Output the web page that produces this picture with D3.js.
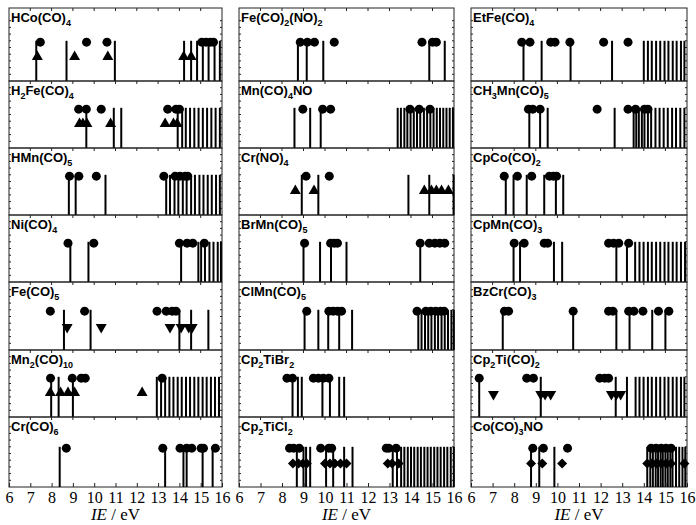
<!DOCTYPE html>
<html>
<head>
<meta charset="utf-8">
<script src="https://cdn.jsdelivr.net/npm/d3@7"></script>
<style>
  body { margin: 0; background: #fff; }
  svg { display: block; }
</style>
</head>
<body>
<div id="chart"></div>
<script>
// panel names, column by column (subscripts written in braces)
const labels = [
  "HCo(CO){4}", "H{2}Fe(CO){4}", "HMn(CO){5}", "Ni(CO){4}", "Fe(CO){5}", "Mn{2}(CO){10}", "Cr(CO){6}",
  "Fe(CO){2}(NO){2}", "Mn(CO){4}NO", "Cr(NO){4}", "BrMn(CO){5}", "ClMn(CO){5}", "Cp{2}TiBr{2}", "Cp{2}TiCl{2}",
  "EtFe(CO){4}", "CH{3}Mn(CO){5}", "CpCo(CO){2}", "CpMn(CO){3}", "BzCr(CO){3}", "Cp{2}Ti(CO){2}", "Co(CO){3}NO"
];

// calculated ionisation energies (sticks), eV
const sticks = [
  [7.28, 8.7, 10.97, 14.22, 14.55, 14.83, 15.1, 15.37, 15.65, 15.9],
  [9.63, 10.92, 11.27, 13.92, 14.13, 14.3, 14.5, 14.7, 14.9, 15.1, 15.3, 15.5, 15.7, 15.9],
  [8.81, 9.13, 10.53, 13.38, 13.56, 13.77, 13.95, 14.16, 14.34, 14.55, 14.73, 14.94, 15.13, 15.33, 15.52, 15.72, 15.9],
  [8.88, 9.73, 14.08, 14.89, 15.02, 15.2, 15.41, 15.6, 15.8, 15.95],
  [8.58, 9.83, 14.0, 14.55, 15.36],
  [7.98, 8.33, 9.0, 12.94, 13.14, 13.33, 13.53, 13.72, 13.92, 14.11, 14.31, 14.5, 14.7, 14.89, 15.09, 15.28, 15.48, 15.67, 15.86],
  [8.38, 13.33, 14.19, 14.34, 15.09, 15.56],
  [8.74, 9.15, 9.92, 14.85, 15.57],
  [8.58, 9.31, 9.8, 13.38, 13.53, 13.69, 13.83, 13.98, 14.13, 14.28, 14.43, 14.6, 14.75, 14.9, 15.05, 15.2, 15.35, 15.5, 15.65, 15.8, 15.95],
  [8.92, 9.69, 13.88, 14.85, 15.98],
  [9.0, 9.77, 10.28, 11.0, 14.43],
  [9.05, 9.69, 10.15, 10.66, 11.26, 14.34, 14.49, 14.65, 14.8, 14.95, 15.11, 15.26, 15.42, 15.57, 15.72, 15.88, 15.99],
  [8.49, 8.74, 8.92, 9.88, 10.23, 10.66, 10.89],
  [8.69, 9.0, 9.12, 9.31, 10.05, 10.38, 10.89, 11.28, 13.15, 13.35, 13.54, 13.69, 13.85, 14.0, 14.15, 14.31, 14.46, 14.62, 14.77, 14.92, 15.08, 15.23, 15.38, 15.54, 15.69, 15.85, 15.99],
  [8.43, 9.27, 10.61, 12.53, 14.0, 14.19, 14.37, 14.57, 14.76, 14.96, 15.14, 15.34, 15.52, 15.72, 15.88],
  [8.7, 9.2, 9.55, 12.65, 13.53, 13.65, 13.77, 13.91, 14.03, 14.19, 14.34, 14.54, 14.73, 14.92, 15.11, 15.31, 15.49, 15.69, 15.88],
  [7.61, 7.97, 8.58, 9.39, 9.93, 10.27],
  [7.97, 8.27, 9.84, 10.22, 12.73, 13.22, 13.6, 13.8, 13.99, 14.19, 14.37, 14.57, 14.76, 14.96, 15.14, 15.34, 15.52, 15.72, 15.91],
  [7.47, 10.73, 12.73, 13.34, 14.39, 15.0],
  [6.38, 9.23, 12.7, 13.22, 13.62, 13.8, 13.99, 14.19, 14.37, 14.57, 14.76, 14.96, 15.14, 15.34, 15.52, 15.72, 15.88],
  [8.78, 9.16, 9.86, 14.16, 14.3, 14.42, 14.55, 14.66, 14.78, 14.88, 15.0, 15.11, 15.23, 15.33, 15.49, 15.64, 15.79, 15.92]
];

// experimental values, circles
const circles = [
  [7.47, 9.64, 10.6, 15.05, 15.25, 15.45, 15.6],
  [9.27, 9.63, 10.33, 13.45, 13.84, 14.0],
  [8.84, 9.28, 10.1, 13.27, 13.8, 14.03, 14.27, 14.39],
  [8.77, 9.98, 14.0, 14.36, 14.63, 15.17],
  [7.94, 9.55, 12.95, 13.38, 13.66, 13.84],
  [7.95, 8.97, 9.39, 9.58, 13.19],
  [8.69, 13.22, 14.03, 14.34, 14.58, 15.02, 15.13, 15.69],
  [8.85, 9.18, 9.51, 10.43, 14.51, 15.0, 15.18],
  [8.97, 9.89, 10.26, 13.95, 14.38, 14.88],
  [9.12, 10.2],
  [9.05, 10.26, 10.43, 10.58, 14.43, 14.85, 15.11, 15.34, 15.57],
  [9.15, 10.18, 10.38, 10.58, 10.77, 14.28, 14.69, 14.92, 15.15, 15.38, 15.54],
  [8.23, 8.49, 9.46, 9.69, 9.92, 10.18],
  [8.35, 8.54, 8.8, 9.8, 10.18, 10.31, 12.85, 12.97, 13.31],
  [8.35, 8.73, 9.69, 9.89, 10.58, 12.14, 13.27],
  [8.66, 8.86, 9.2, 11.84, 13.27, 13.62, 14.03, 14.19],
  [7.54, 8.15, 8.81, 9.63, 9.81, 9.96],
  [8.0, 8.46, 9.39, 9.55, 12.37, 12.6, 12.84, 13.3],
  [7.55, 7.74, 10.73, 12.37, 12.57, 13.3, 13.54, 13.96, 14.68, 15.16],
  [6.38, 8.58, 8.89, 11.96, 12.19, 12.37],
  [8.86, 9.35, 10.47, 14.34, 14.57, 14.8, 15.03, 15.26]
];

// second data set, triangles up
const triUp = [
  [7.33, 9.08, 10.64, 14.2, 14.55],
  [9.31, 9.47, 9.66, 10.77, 13.33, 13.72, 13.89],
  [], [], [],
  [7.94, 8.42, 8.77, 9.08, 12.25],
  [], [], [],
  [8.62, 9.49, 14.62, 14.95, 15.18, 15.42, 15.74],
  [], [], [], [], [], [], [], [], [], [], []
];

// triangles down
const triDown = [
  [], [], [], [],
  [8.73, 10.33, 13.56, 14.08, 14.44, 14.6],
  [], [], [], [], [], [], [], [], [], [], [], [], [], [],
  [7.04, 9.23, 9.43, 9.69, 12.5, 12.73, 12.93],
  []
];

// diamonds
const diamonds = [
  [], [], [], [], [], [], [], [], [], [], [], [], [],
  [8.51, 8.77, 8.97, 9.15, 10.0, 10.23, 10.46, 10.72, 11.0, 12.92, 13.12, 13.43],
  [], [], [], [], [], [],
  [8.78, 9.3, 10.22, 14.16, 14.37, 14.57, 14.8, 15.03, 15.26, 15.88]
];

const xTicks = [6, 7, 8, 9, 10, 11, 12, 13, 14, 15, 16];

var width = 696, height = 525;
var colX = [[9, 222], [239, 454], [471, 687]];
var rowTop = [8, 81, 148, 215, 282, 350, 417];
var plotBottom = 487;
var rowH = 67;

var svg = d3.select("#chart").append("svg")
  .attr("width", width)
  .attr("height", height);

var triPath = d3.symbol().type(d3.symbolTriangle).size(52);
var diamondPath = d3.symbol().type(d3.symbolDiamond2).size(64);

labels.forEach(function(name, i) {
  var c = Math.floor(i / 7), r = i % 7;
  var top = rowTop[r];
  var bottom = r < 6 ? rowTop[r + 1] : plotBottom;

  var x = d3.scaleLinear().domain([6, 16]).range(colX[c]);
  var y = d3.scaleLinear().domain([0, 1]).range([bottom, bottom - rowH]);

  var g = svg.append("g");

  // frame
  g.append("rect")
    .attr("x", x(6)).attr("y", top)
    .attr("width", x(16) - x(6)).attr("height", bottom - top)
    .attr("fill", "none").attr("stroke", "#222").attr("stroke-width", 1);

  // small inward ticks on the top edge
  g.selectAll(".tt").data(xTicks.slice(1, -1)).join("line")
    .attr("x1", d => x(d)).attr("x2", d => x(d))
    .attr("y1", top).attr("y2", top + 3)
    .attr("stroke", "#222");
  // minor ticks on left/right edges
  var yt = d3.range(1, 10).map(d => d / 10);
  g.selectAll(".yl").data(yt).join("line")
    .attr("x1", x(6)).attr("x2", x(6) + 2)
    .attr("y1", d => y(d)).attr("y2", d => y(d))
    .attr("stroke", "#222");
  g.selectAll(".yr").data(yt).join("line")
    .attr("x1", x(16)).attr("x2", x(16) - 2)
    .attr("y1", d => y(d)).attr("y2", d => y(d))
    .attr("stroke", "#222");

  // sticks
  g.selectAll(".stick").data(sticks[i]).join("line")
    .attr("x1", d => x(d)).attr("x2", d => x(d))
    .attr("y1", y(0)).attr("y2", y(0.6))
    .attr("stroke", "#000").attr("stroke-width", 2);

  // markers
  g.selectAll(".circ").data(circles[i]).join("circle")
    .attr("cx", d => x(d)).attr("cy", y(0.58))
    .attr("r", 4.5).attr("fill", "#000");

  g.selectAll(".tu").data(triUp[i]).join("path")
    .attr("d", triPath)
    .attr("transform", d => "translate(" + x(d) + "," + y(0.36) + ")")
    .attr("fill", "#000");

  g.selectAll(".td").data(triDown[i]).join("path")
    .attr("d", triPath)
    .attr("transform", d => "translate(" + x(d) + "," + y(0.34) + ") rotate(180)")
    .attr("fill", "#000");

  g.selectAll(".dm").data(diamonds[i]).join("path")
    .attr("d", diamondPath)
    .attr("transform", d => "translate(" + x(d) + "," + y(0.35) + ")")
    .attr("fill", "#000");

  // panel name with subscripts
  var t = g.append("text")
    .attr("x", x(6) + 2).attr("y", top + 14)
    .attr("font-family", "Liberation Sans, Arial, sans-serif")
    .attr("font-weight", "bold").attr("font-size", 13);
  var wasSub = false;
  name.split(/(\{\d+\})/).forEach(function(part) {
    if (!part) return;
    var isSub = part[0] === "{";
    var dy = isSub && !wasSub ? 4 : (!isSub && wasSub ? -4 : 0);
    t.append("tspan")
      .attr("dy", dy)
      .attr("font-size", isSub ? 9 : 13)
      .text(isSub ? part.slice(1, -1) : part);
    wasSub = isSub;
  });

  // bottom axis on the last row
  if (r === 6) {
    svg.append("g")
      .attr("transform", "translate(0," + bottom + ")")
      .call(d3.axisBottom(x).tickValues(xTicks).tickFormat(d3.format("d"))
        .tickSizeInner(-4).tickSizeOuter(0).tickPadding(5))
      .call(a => a.select(".domain").remove())
      .call(a => a.selectAll("line").attr("stroke", "#222"))
      .call(a => a.selectAll("text")
        .attr("font-family", "Liberation Serif, Times New Roman, serif")
        .attr("font-size", 16).attr("fill", "#000"));

    var title = svg.append("text")
      .attr("x", (x(6) + x(16)) / 2).attr("y", 520)
      .attr("text-anchor", "middle")
      .attr("font-family", "Liberation Serif, Times New Roman, serif")
      .attr("font-size", 17);
    title.append("tspan").attr("font-style", "italic").text("IE");
    title.append("tspan").text(" / eV");
  }
});
</script>
</body>
</html>
